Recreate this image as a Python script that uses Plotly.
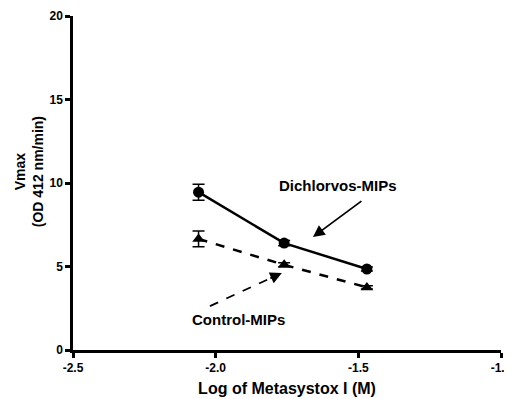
import plotly.graph_objects as go

# Data
log_conc = [-2.06, -1.76, -1.47]
dichlorvos_vmax = [9.45, 6.4, 4.85]
dichlorvos_err = [0.48, 0.15, 0.12]
control_vmax = [6.65, 5.1, 3.75]
control_err = [0.47, 0.12, 0.1]

x_ticks = [-2.5, -2.0, -1.5, -1.0]
y_ticks = [0, 5, 10, 15, 20]

FONT = "Liberation Sans"

fig = go.Figure()
fig.add_trace(go.Scatter(
    x=log_conc, y=dichlorvos_vmax, mode="lines+markers", name="Dichlorvos-MIPs",
    line=dict(color="black", width=2.5),
    marker=dict(symbol="circle", size=11, color="black"),
    error_y=dict(type="data", array=dichlorvos_err, color="black", thickness=1.5, width=6),
))
fig.add_trace(go.Scatter(
    x=log_conc, y=control_vmax, mode="lines+markers", name="Control-MIPs",
    line=dict(color="black", width=2.5, dash="dash"),
    marker=dict(symbol="triangle-up", size=11, color="black"),
    error_y=dict(type="data", array=control_err, color="black", thickness=1.5, width=6),
))

# Dashed arrow for Control-MIPs: dashed shaft + solid head
fig.add_shape(type="line", x0=-2.02, y0=2.63, x1=-1.813, y1=4.26,
              line=dict(color="black", width=1.8, dash="dash"), layer="above")
fig.add_annotation(x=-1.768, y=4.61, ax=-13, ay=6,
                   text="", showarrow=True, arrowhead=2, arrowsize=1.3, arrowwidth=1.8,
                   arrowcolor="black")
# Solid arrow for Dichlorvos-MIPs
fig.add_annotation(x=-1.659, y=6.77, ax=-1.484, ay=8.98, axref="x", ayref="y",
                   text="", showarrow=True, arrowhead=2, arrowsize=1.3, arrowwidth=1.8,
                   arrowcolor="black")

fig.add_annotation(x=-1.571, y=9.88, text="<b>Dichlorvos-MIPs</b>", showarrow=False,
                   font=dict(family=FONT, size=15, color="black"))
fig.add_annotation(x=-1.92, y=1.80, text="<b>Control-MIPs</b>", showarrow=False,
                   font=dict(family=FONT, size=15, color="black"))

# Y axis title
fig.add_annotation(xref="paper", yref="paper", x=-0.103, y=0.535, textangle=-90,
                   text="<b>Vmax<br>(OD 412 nm/min)</b>", showarrow=False,
                   xanchor="center", yanchor="middle",
                   font=dict(family=FONT, size=14, color="black"))

# The page body adds an 8px offset; the figure is sized to fit the window
# so the plot area lands at x 73..501, y 16..350.
fig.update_layout(
    width=504, height=391,
    margin=dict(l=65, r=11, t=8, b=49),
    paper_bgcolor="white", plot_bgcolor="white",
    showlegend=False,
    font=dict(family=FONT, color="black"),
)
fig.update_xaxes(
    range=[-2.5, -1.0], tickvals=x_ticks, ticktext=[f"<b>{v:.1f}</b>" for v in x_ticks],
    showline=True, linecolor="black", linewidth=2.5, ticks="outside", ticklen=5,
    tickwidth=2.5, tickcolor="black", showgrid=False, zeroline=False, automargin=False,
    tickfont=dict(family=FONT, size=12, color="black"),
    title=dict(text="<b>Log of Metasystox I (M)</b>", font=dict(family=FONT, size=16, color="black"), standoff=9),
)
fig.update_yaxes(
    range=[0, 20], tickvals=y_ticks, ticktext=[f"<b>{v}</b>" for v in y_ticks],
    showline=True, linecolor="black", linewidth=2.5, ticks="outside", ticklen=5,
    tickwidth=2.5, tickcolor="black", showgrid=False, zeroline=False, automargin=False,
    tickfont=dict(family=FONT, size=12, color="black"),
)

fig.write_html("out.html")
